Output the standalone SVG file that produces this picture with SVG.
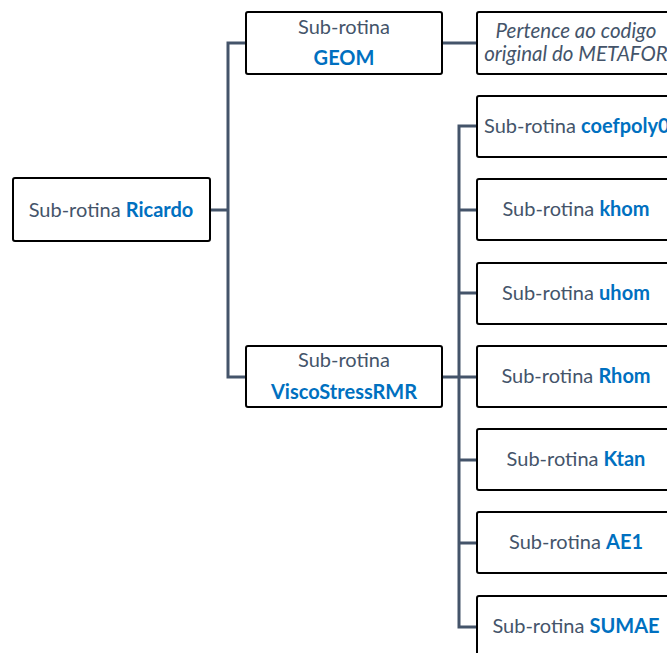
<svg xmlns="http://www.w3.org/2000/svg" width="667" height="653" viewBox="0 0 667 653">
  <style>
    .box { fill: #ffffff; stroke: #000000; stroke-width: 2; }
    .link { fill: none; stroke: #44546a; stroke-width: 3; }
    text { font-family: Lato, "Open Sans", sans-serif; font-size: 20px; text-anchor: middle; }
    .g { fill: #44546a; }
    .b { fill: #0070c0; font-weight: bold; }
    .i { fill: #44546a; font-style: italic; font-size: 20.5px; }
  </style>
  <rect width="667" height="653" fill="#ffffff"/>

  <g id="connectors">
    <path class="link" d="M210 210 H228 M246 43 H228 V377 H246"/>
    <path class="link" d="M442 43 H477"/>
    <path class="link" d="M442 377 H477"/>
    <path class="link" d="M477 126 H459 V627 H477 M459 210 H477 M459 293 H477 M459 460 H477 M459 543 H477"/>
  </g>

  <g id="ricardo">
    <rect class="box" x="13" y="178" width="197" height="63" rx="2"/>
    <text x="111" y="217"><tspan class="g">Sub-rotina </tspan><tspan class="b">Ricardo</tspan></text>
  </g>
  <g id="geom">
    <rect class="box" x="246" y="12" width="196" height="62" rx="2"/>
    <text x="344" y="34" class="g">Sub-rotina</text>
    <text x="344" y="65" class="b">GEOM</text>
  </g>
  <g id="metafor">
    <rect class="box" x="477" y="12" width="200" height="62" rx="2"/>
    <text x="576" y="38" class="i">Pertence ao codigo</text>
    <text x="576" y="61" class="i">original do METAFOR</text>
  </g>
  <g id="viscostress">
    <rect class="box" x="246" y="346" width="196" height="61" rx="2"/>
    <text x="344" y="367" class="g">Sub-rotina</text>
    <text x="344" y="399" class="b">ViscoStressRMR</text>
  </g>
  <g id="coefpoly0">
    <rect class="box" x="477" y="96" width="200" height="61" rx="2"/>
    <text x="484" y="133" style="text-anchor:start"><tspan class="g">Sub-rotina </tspan><tspan class="b">coefpoly0</tspan></text>
  </g>
  <g id="khom">
    <rect class="box" x="477" y="179" width="200" height="61" rx="2"/>
    <text x="576" y="216"><tspan class="g">Sub-rotina </tspan><tspan class="b">khom</tspan></text>
  </g>
  <g id="uhom">
    <rect class="box" x="477" y="263" width="200" height="61" rx="2"/>
    <text x="576" y="300"><tspan class="g">Sub-rotina </tspan><tspan class="b">uhom</tspan></text>
  </g>
  <g id="rhom">
    <rect class="box" x="477" y="346" width="200" height="61" rx="2"/>
    <text x="576" y="383"><tspan class="g">Sub-rotina </tspan><tspan class="b">Rhom</tspan></text>
  </g>
  <g id="ktan">
    <rect class="box" x="477" y="429" width="200" height="61" rx="2"/>
    <text x="576" y="466"><tspan class="g">Sub-rotina </tspan><tspan class="b">Ktan</tspan></text>
  </g>
  <g id="ae1">
    <rect class="box" x="477" y="512" width="200" height="61" rx="2"/>
    <text x="576" y="549"><tspan class="g">Sub-rotina </tspan><tspan class="b">AE1</tspan></text>
  </g>
  <g id="sumae">
    <rect class="box" x="477" y="596" width="200" height="61" rx="2"/>
    <text x="576" y="633"><tspan class="g">Sub-rotina </tspan><tspan class="b">SUMAE</tspan></text>
  </g>
</svg>
